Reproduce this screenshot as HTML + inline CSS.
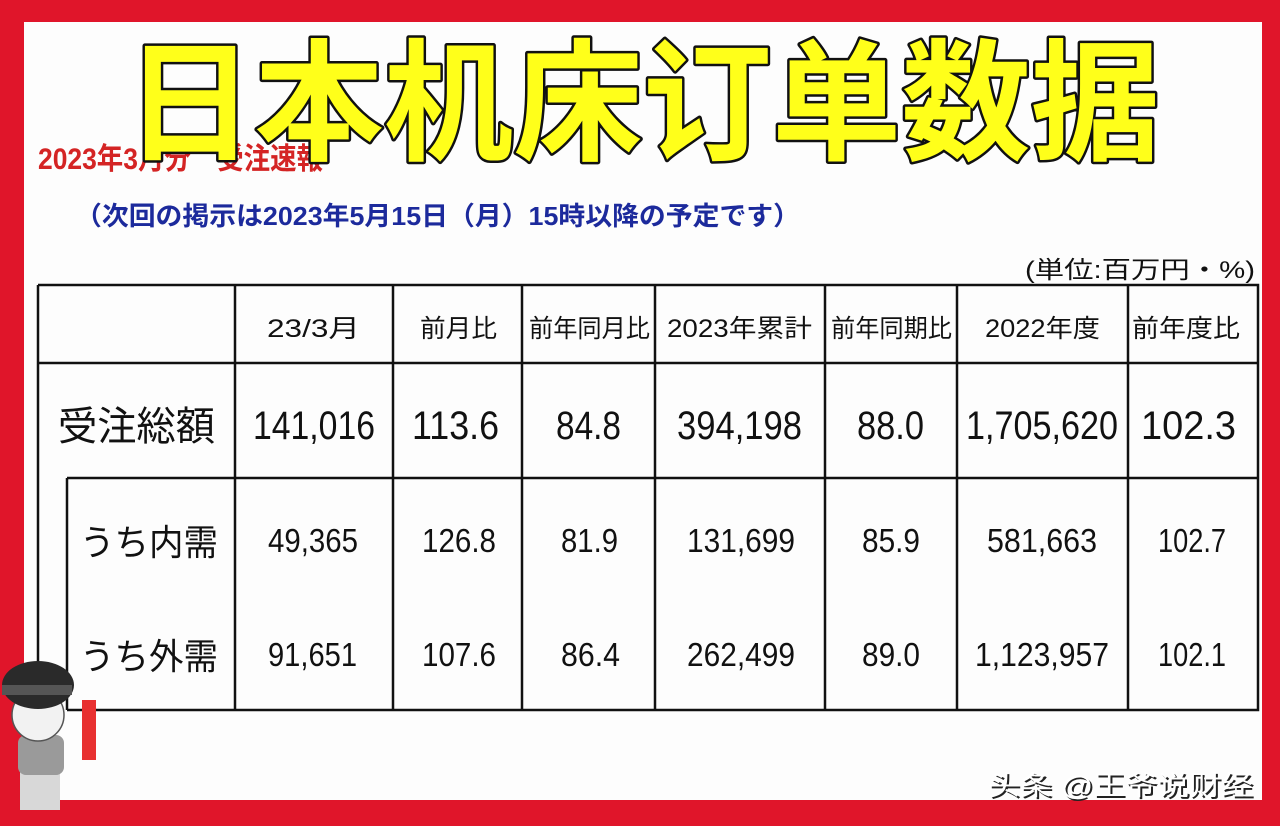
<!DOCTYPE html>
<html><head><meta charset="utf-8"><style>
html,body{margin:0;padding:0;width:1280px;height:826px;overflow:hidden;background:#e0152a}
svg{display:block}
text{font-family:"Liberation Sans","Noto Sans CJK JP",sans-serif}
</style></head><body>
<svg width="1280" height="826" viewBox="0 0 1280 826">
<rect x="0" y="0" width="1280" height="826" fill="#e0152a"/>
<rect x="24" y="22" width="1238" height="778" fill="#fdfdfd"/>
<g stroke="#111" stroke-width="2.5" fill="none">
<path d="M38 285H1258V710H67M38 285V700M67 478V710M67 478H1258M38 363H1258"/>
<path d="M235 285V710M393 285V710M522 285V710M655 285V710M825 285V710M957 285V710M1128 285V710"/>
</g>
<g fill="#111">
<g font-size="25">
<text x="267" y="337" textLength="93" lengthAdjust="spacingAndGlyphs">23/3月</text>
<text x="420" y="337" textLength="77" lengthAdjust="spacingAndGlyphs">前月比</text>
<text x="529" y="337" textLength="121" lengthAdjust="spacingAndGlyphs">前年同月比</text>
<text x="667" y="337" textLength="145" lengthAdjust="spacingAndGlyphs">2023年累計</text>
<text x="831" y="337" textLength="121" lengthAdjust="spacingAndGlyphs">前年同期比</text>
<text x="985" y="337" textLength="115" lengthAdjust="spacingAndGlyphs">2022年度</text>
<text x="1132" y="337" textLength="108" lengthAdjust="spacingAndGlyphs">前年度比</text>
</g>
<g font-size="40">
<text x="58" y="440" textLength="157" lengthAdjust="spacingAndGlyphs">受注総額</text>
<text x="253" y="439" textLength="122" lengthAdjust="spacingAndGlyphs">141,016</text>
<text x="412" y="439" textLength="87" lengthAdjust="spacingAndGlyphs">113.6</text>
<text x="556" y="439" textLength="65" lengthAdjust="spacingAndGlyphs">84.8</text>
<text x="677" y="439" textLength="125" lengthAdjust="spacingAndGlyphs">394,198</text>
<text x="857" y="439" textLength="67" lengthAdjust="spacingAndGlyphs">88.0</text>
<text x="966" y="439" textLength="152" lengthAdjust="spacingAndGlyphs">1,705,620</text>
<text x="1141" y="439" textLength="95" lengthAdjust="spacingAndGlyphs">102.3</text>
</g>
<g font-size="36">
<text x="80" y="555" textLength="138" lengthAdjust="spacingAndGlyphs">うち内需</text>
<text x="80" y="669" textLength="138" lengthAdjust="spacingAndGlyphs">うち外需</text>
</g>
<g font-size="33">
<text x="268" y="552" textLength="90" lengthAdjust="spacingAndGlyphs">49,365</text>
<text x="422" y="552" textLength="74" lengthAdjust="spacingAndGlyphs">126.8</text>
<text x="561" y="552" textLength="57" lengthAdjust="spacingAndGlyphs">81.9</text>
<text x="687" y="552" textLength="108" lengthAdjust="spacingAndGlyphs">131,699</text>
<text x="862" y="552" textLength="58" lengthAdjust="spacingAndGlyphs">85.9</text>
<text x="987" y="552" textLength="110" lengthAdjust="spacingAndGlyphs">581,663</text>
<text x="1158" y="552" textLength="68" lengthAdjust="spacingAndGlyphs">102.7</text>
<text x="268" y="666" textLength="89" lengthAdjust="spacingAndGlyphs">91,651</text>
<text x="422" y="666" textLength="74" lengthAdjust="spacingAndGlyphs">107.6</text>
<text x="561" y="666" textLength="59" lengthAdjust="spacingAndGlyphs">86.4</text>
<text x="687" y="666" textLength="108" lengthAdjust="spacingAndGlyphs">262,499</text>
<text x="862" y="666" textLength="58" lengthAdjust="spacingAndGlyphs">89.0</text>
<text x="975" y="666" textLength="134" lengthAdjust="spacingAndGlyphs">1,123,957</text>
<text x="1158" y="666" textLength="68" lengthAdjust="spacingAndGlyphs">102.1</text>
</g>
<text x="1025" y="278" font-size="24" textLength="230" lengthAdjust="spacingAndGlyphs">(単位:百万円・%)</text>
</g>
<text x="38" y="169" font-size="30" font-weight="bold" fill="#d42424" textLength="285" lengthAdjust="spacingAndGlyphs">2023年3月分　受注速報</text>
<text x="75" y="225" font-size="26" font-weight="bold" fill="#1c2a9c" textLength="725" lengthAdjust="spacingAndGlyphs">（次回の掲示は2023年5月15日（月）15時以降の予定です）</text>
<text x="125" y="150" font-size="132" font-weight="bold" fill="#ffff1a" stroke="#111" stroke-width="5" paint-order="stroke" stroke-linejoin="round" textLength="1035" lengthAdjust="spacingAndGlyphs">日本机床订单数据</text>
<text x="990" y="797" font-size="27" fill="#222" textLength="265" lengthAdjust="spacingAndGlyphs">头条 @王爷说财经</text>
<text x="988" y="795" font-size="27" fill="#fff" textLength="265" lengthAdjust="spacingAndGlyphs">头条 @王爷说财经</text>
<g>
<rect x="20" y="760" width="40" height="50" fill="#d8d8d8"/>
<rect x="18" y="735" width="46" height="40" rx="8" fill="#9a9a9a"/>
<circle cx="38" cy="715" r="26" fill="#f2f2f2" stroke="#555" stroke-width="1.5"/>
<ellipse cx="38" cy="685" rx="36" ry="24" fill="#2a2a2a"/>
<rect x="2" y="685" width="70" height="10" fill="#555"/>
<rect x="82" y="700" width="14" height="60" fill="#e83030"/>
</g>
</svg>
</body></html>
